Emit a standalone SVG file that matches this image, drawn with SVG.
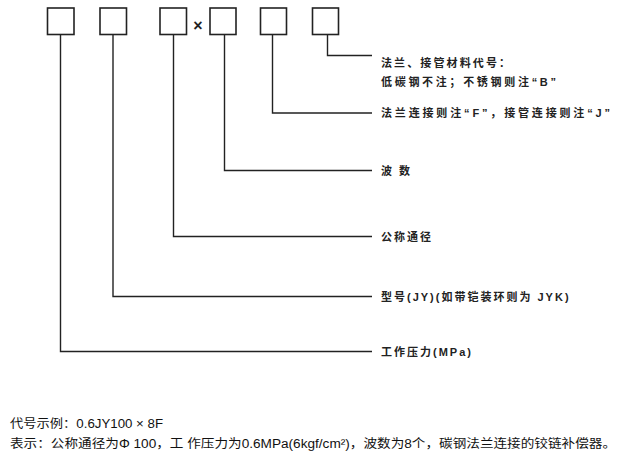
<svg xmlns="http://www.w3.org/2000/svg" width="627" height="464" viewBox="0 0 627 464">
<style>
.box{fill:#fff;stroke:#222;stroke-width:1.6}
.ln{fill:none;stroke:#222;stroke-width:1.4}
.lb{font-family:"Liberation Sans","Noto Sans CJK SC",sans-serif;font-size:11px;font-weight:bold;fill:#222;letter-spacing:2px}
.bt{font-family:"Liberation Sans","Noto Sans CJK SC",sans-serif;font-size:12px;fill:#111}
</style>
<rect width="627" height="464" fill="#fff"/>
<g id="box1"><rect class="box" x="47.5" y="8" width="26.5" height="26.5"/></g>
<g id="box2"><rect class="box" x="100" y="8" width="26.5" height="26.5"/></g>
<g id="box3"><rect class="box" x="160" y="8" width="26.5" height="26.5"/></g>
<text x="198" y="31" text-anchor="middle" font-family="Liberation Sans, sans-serif" font-size="16" font-weight="bold" fill="#222">×</text>
<g id="box4"><rect class="box" x="210" y="8" width="26" height="26.5"/></g>
<g id="box5"><rect class="box" x="260.5" y="8" width="26" height="26.5"/></g>
<g id="box6"><rect class="box" x="312.5" y="8" width="26" height="26.5"/></g>
<g id="connectors">
<polyline class="ln" points="327.5,34.5 327.5,55.5 372,55.5"/>
<polyline class="ln" points="272.5,34.5 272.5,113 372,113"/>
<polyline class="ln" points="224.5,34.5 224.5,170.5 372,170.5"/>
<polyline class="ln" points="173.5,34.5 173.5,236.5 372,236.5"/>
<polyline class="ln" points="113,34.5 113,296.5 372,296.5"/>
<polyline class="ln" points="60.5,34.5 60.5,351.5 372,351.5"/>
</g>
<g id="labels">
<text class="lb" x="381" y="67" textLength="131" lengthAdjust="spacing">法兰、接管材料代号：</text>
<text class="lb" x="381" y="86" textLength="177" lengthAdjust="spacing">低碳钢不注；不锈钢则注“B”</text>
<text class="lb" x="381" y="117" textLength="231" lengthAdjust="spacing">法兰连接则注“F”，接管连接则注“J”</text>
<text class="lb" x="381" y="175">波 数</text>
<text class="lb" x="381" y="241">公称通径</text>
<text class="lb" x="381" y="301">型号(JY)(如带铠装环则为 JYK)</text>
<text class="lb" x="381" y="356">工作压力(MPa)</text>
</g>
<text class="bt" x="10" y="428" textLength="153" lengthAdjust="spacingAndGlyphs">代号示例：0.6JY100 × 8F</text>
<text class="bt" x="10" y="448" textLength="606" lengthAdjust="spacingAndGlyphs">表示：公称通径为Φ 100，工 作压力为0.6MPa(6kgf/cm²)，波数为8个，碳钢法兰连接的铰链补偿器。</text>
</svg>
